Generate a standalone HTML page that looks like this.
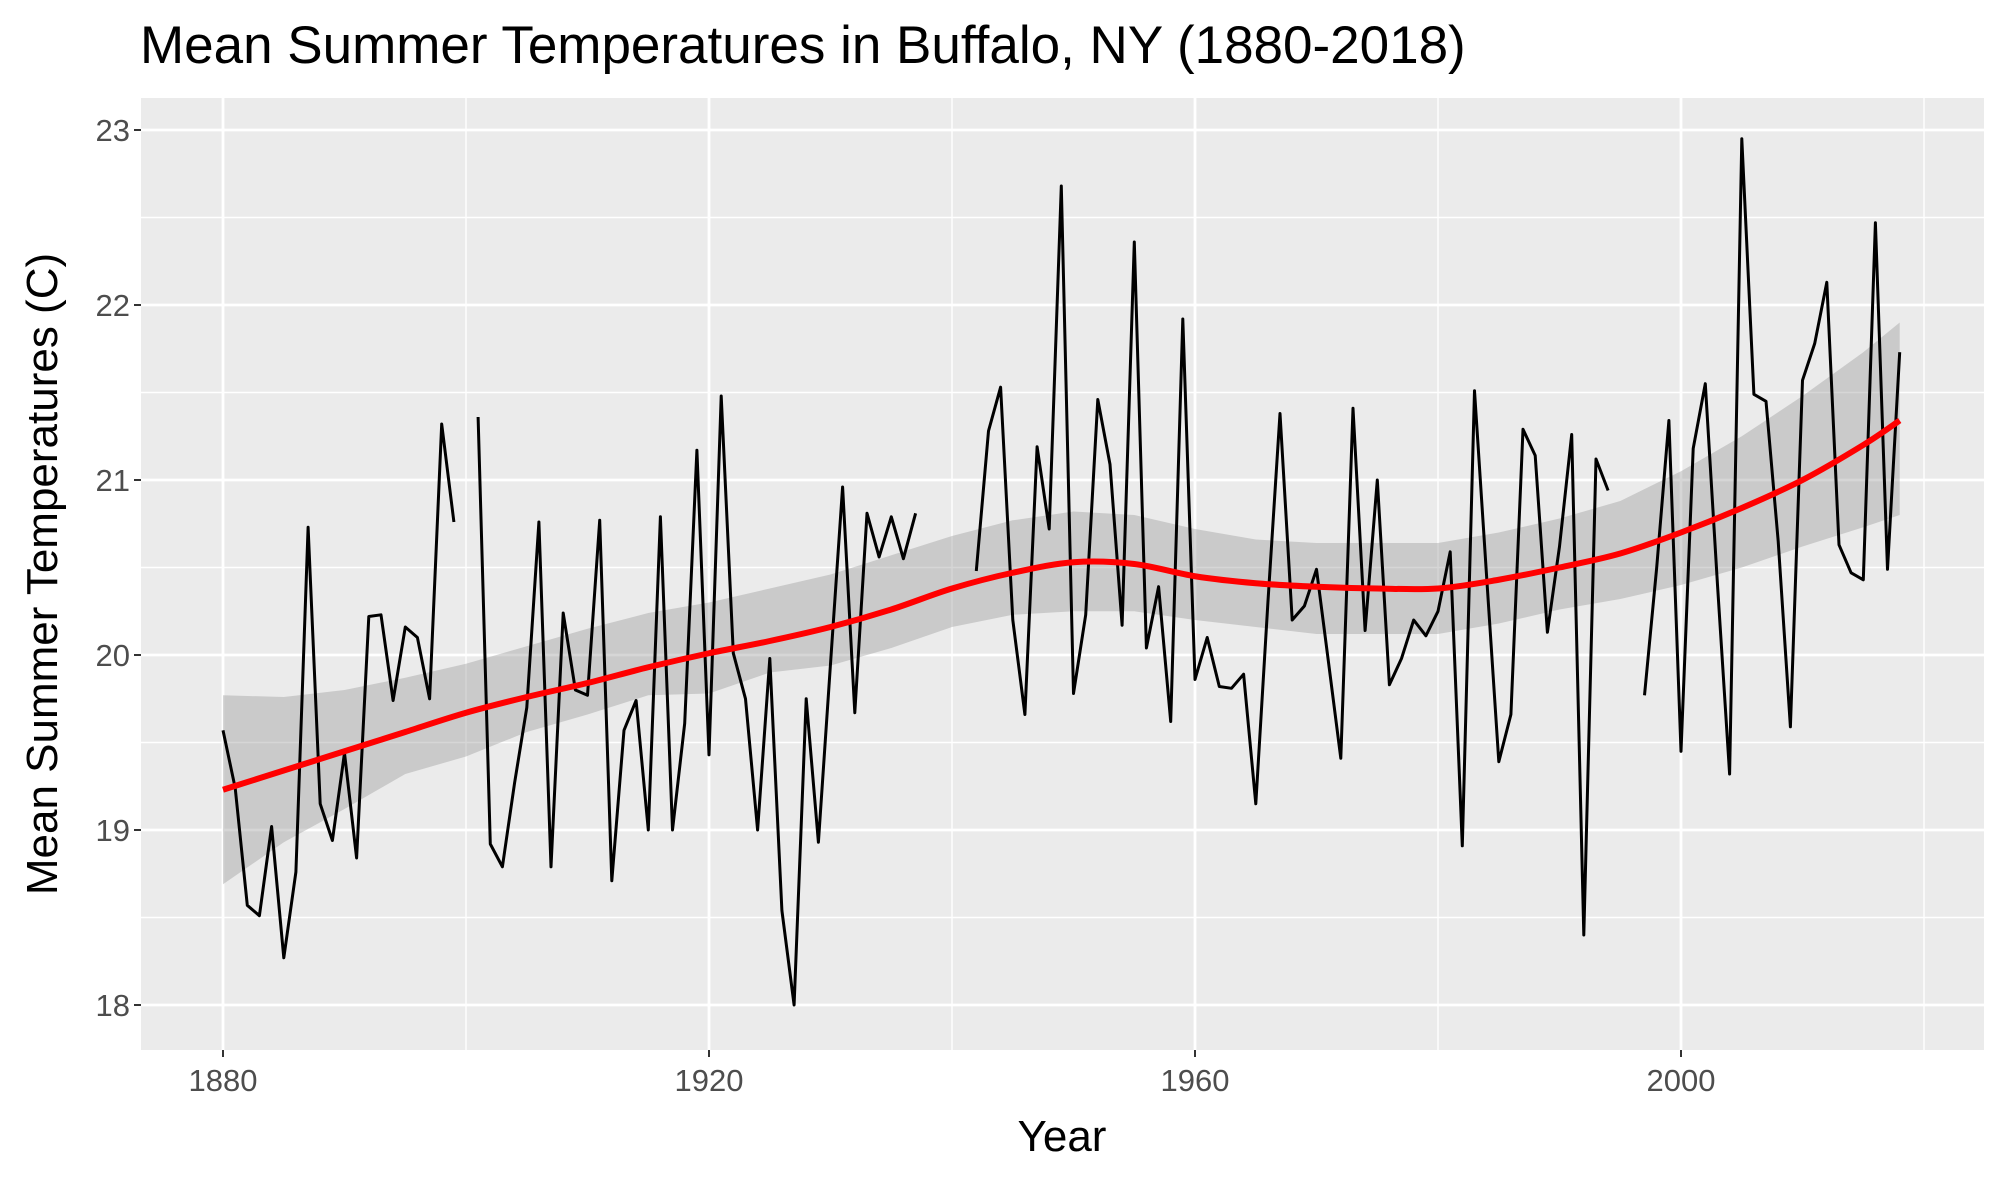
<!DOCTYPE html>
<html><head><meta charset="utf-8"><style>
html,body{margin:0;padding:0;background:#fff;}
svg{display:block;font-family:"Liberation Sans",Arial,sans-serif;}
</style></head><body>
<svg id="chart" width="2007" height="1181" viewBox="0 0 2007 1181" xmlns="http://www.w3.org/2000/svg">
<text x="140" y="63" font-size="53" fill="#000">Mean Summer Temperatures in Buffalo, NY (1880-2018)</text>
<rect x="141" y="98" width="1843" height="952" fill="#ebebeb"/>
<g id="grid"></g>
<g id="ribbon"></g>
<g id="series"></g>
<g id="axes"></g>
<text x="1062" y="1151" font-size="44" text-anchor="middle" fill="#000">Year</text>
<text transform="translate(57,574) rotate(-90)" font-size="44" text-anchor="middle" fill="#000">Mean Summer Temperatures (C)</text>
</svg>
<script>
const years = [];
for (let y = 1880; y <= 2018; y++) years.push(y);
const temps = [19.57,19.24,18.57,18.51,19.02,18.27,18.76,20.73,19.15,18.94,
19.44,18.84,20.22,20.23,19.74,20.16,20.10,19.75,21.32,20.76,
null,21.36,18.92,18.79,19.27,19.70,20.76,18.79,20.24,19.80,
19.77,20.77,18.71,19.57,19.74,19.00,20.79,19.00,19.61,21.17,
19.43,21.48,20.01,19.75,19.00,19.98,18.54,18.00,19.75,18.93,
19.95,20.96,19.67,20.81,20.56,20.79,20.55,20.81,null,null,
null,null,20.48,21.28,21.53,20.20,19.66,21.19,20.72,22.68,
19.78,20.23,21.46,21.09,20.17,22.36,20.04,20.39,19.62,21.92,
19.86,20.10,19.82,19.81,19.89,19.15,20.30,21.38,20.20,20.28,
20.49,19.95,19.41,21.41,20.14,21.00,19.83,19.98,20.20,20.11,
20.25,20.59,18.91,21.51,20.45,19.39,19.66,21.29,21.14,20.13,
20.62,21.26,18.40,21.12,20.94,null,null,19.77,20.50,21.34,
19.45,21.18,21.55,20.40,19.32,22.95,21.49,21.45,20.65,19.59,
21.57,21.78,22.13,20.63,20.47,20.43,22.47,20.49,21.73];
const fitYears = [1880,1885,1890,1895,1900,1905,1910,1915,1920,1925,1930,1935,1940,1945,1950,1955,1960,1965,1970,1975,1980,1985,1990,1995,2000,2005,2010,2015,2018];
const fitValues = [19.23,19.34,19.45,19.56,19.67,19.76,19.84,19.93,20.01,20.08,20.16,20.26,20.38,20.47,20.53,20.52,20.45,20.41,20.39,20.38,20.38,20.43,20.50,20.58,20.70,20.84,21.00,21.20,21.34];
const fitUpper = [19.77,19.76,19.80,19.87,19.95,20.05,20.15,20.24,20.30,20.38,20.46,20.57,20.68,20.77,20.82,20.80,20.72,20.66,20.64,20.64,20.64,20.70,20.78,20.88,21.05,21.25,21.48,21.73,21.90];
const fitLower = [18.69,18.93,19.12,19.32,19.42,19.56,19.66,19.77,19.78,19.90,19.94,20.04,20.16,20.23,20.25,20.25,20.20,20.16,20.12,20.12,20.12,20.18,20.26,20.32,20.40,20.50,20.62,20.73,20.80];
const xTicks = [1880,1920,1960,2000];
const xMinor = [1900,1940,1980,2020];
const yTicks = [18,19,20,21,22,23];
const yMinor = [18.5,19.5,20.5,21.5,22.5];

const NS = "http://www.w3.org/2000/svg";
const PL = 141, PR = 1984, PT = 98, PB = 1050;
function xs(v){ return 223 + (v - 1880) * 12.15; }
function ys(v){ return 1005 - (v - 18) * 175; }
function mk(tag, attrs, parent){
  const e = document.createElementNS(NS, tag);
  for (const k in attrs) e.setAttribute(k, attrs[k]);
  parent.appendChild(e); return e;
}
const grid = document.getElementById('grid');
yMinor.forEach(v => {
  const l = mk('line', {x1:PL,x2:PR,y1:ys(v),y2:ys(v),stroke:'#fff','stroke-width':1.4}, grid);
  
  
});
xMinor.forEach(v => {
  const l = mk('line', {x1:xs(v),x2:xs(v),y1:PT,y2:PB,stroke:'#fff','stroke-width':1.4}, grid);
  
  
});
yTicks.forEach(v => {
  const l = mk('line', {x1:PL,x2:PR,y1:ys(v),y2:ys(v),stroke:'#fff','stroke-width':2.8}, grid);
  
  
});
xTicks.forEach(v => {
  const l = mk('line', {x1:xs(v),x2:xs(v),y1:PT,y2:PB,stroke:'#fff','stroke-width':2.8}, grid);
  
  
});
let rp = '';
fitYears.forEach((y,i) => { rp += (i ? 'L' : 'M') + xs(y).toFixed(1) + ',' + ys(fitUpper[i]).toFixed(1); });
for (let i = fitYears.length - 1; i >= 0; i--) rp += 'L' + xs(fitYears[i]).toFixed(1) + ',' + ys(fitLower[i]).toFixed(1);
const rib = mk('path', {d: rp + 'Z', fill:'#999999', 'fill-opacity':0.4}, document.getElementById('ribbon'));


const series = document.getElementById('series');
let d = '', pen = false;
years.forEach((y,i) => {
  const t = temps[i];
  if (t === null || t === undefined) { pen = false; return; }
  d += (pen ? 'L' : 'M') + xs(y).toFixed(1) + ',' + ys(t).toFixed(1);
  pen = true;
});
const dl = mk('path', {d:d, fill:'none', stroke:'#000', 'stroke-width':3, 'stroke-linejoin':'round'}, series);


const pts = fitYears.map((y,i) => [xs(y), ys(fitValues[i])]);
let fd = 'M' + pts[0][0] + ',' + pts[0][1];
for (let i = 0; i < pts.length - 1; i++) {
  const p0 = pts[Math.max(0,i-1)], p1 = pts[i], p2 = pts[i+1], p3 = pts[Math.min(pts.length-1,i+2)];
  const c1 = [p1[0] + (p2[0]-p0[0])/6, p1[1] + (p2[1]-p0[1])/6];
  const c2 = [p2[0] - (p3[0]-p1[0])/6, p2[1] - (p3[1]-p1[1])/6];
  fd += 'C' + c1.join(',') + ' ' + c2.join(',') + ' ' + p2.join(',');
}
const fl = mk('path', {d:fd, fill:'none', stroke:'#ff0000', 'stroke-width':6, 'stroke-linecap':'butt'}, series);


const axes = document.getElementById('axes');
yTicks.forEach(v => {
  const t = mk('line', {x1:PL-7,x2:PL,y1:ys(v),y2:ys(v),stroke:'#333','stroke-width':2}, axes);
  
  
  const lb = mk('text', {x:PL-11,y:ys(v)+11,'font-size':31,'text-anchor':'end',fill:'#4d4d4d'}, axes);
  lb.textContent = String(v);
  
  
});
xTicks.forEach(v => {
  const t = mk('line', {x1:xs(v),x2:xs(v),y1:PB,y2:PB+7,stroke:'#333','stroke-width':2}, axes);
  
  
  const lb = mk('text', {x:xs(v),y:PB+41,'font-size':31,'text-anchor':'middle',fill:'#4d4d4d'}, axes);
  lb.textContent = String(v);
  
  
});
</script>
</body></html>
